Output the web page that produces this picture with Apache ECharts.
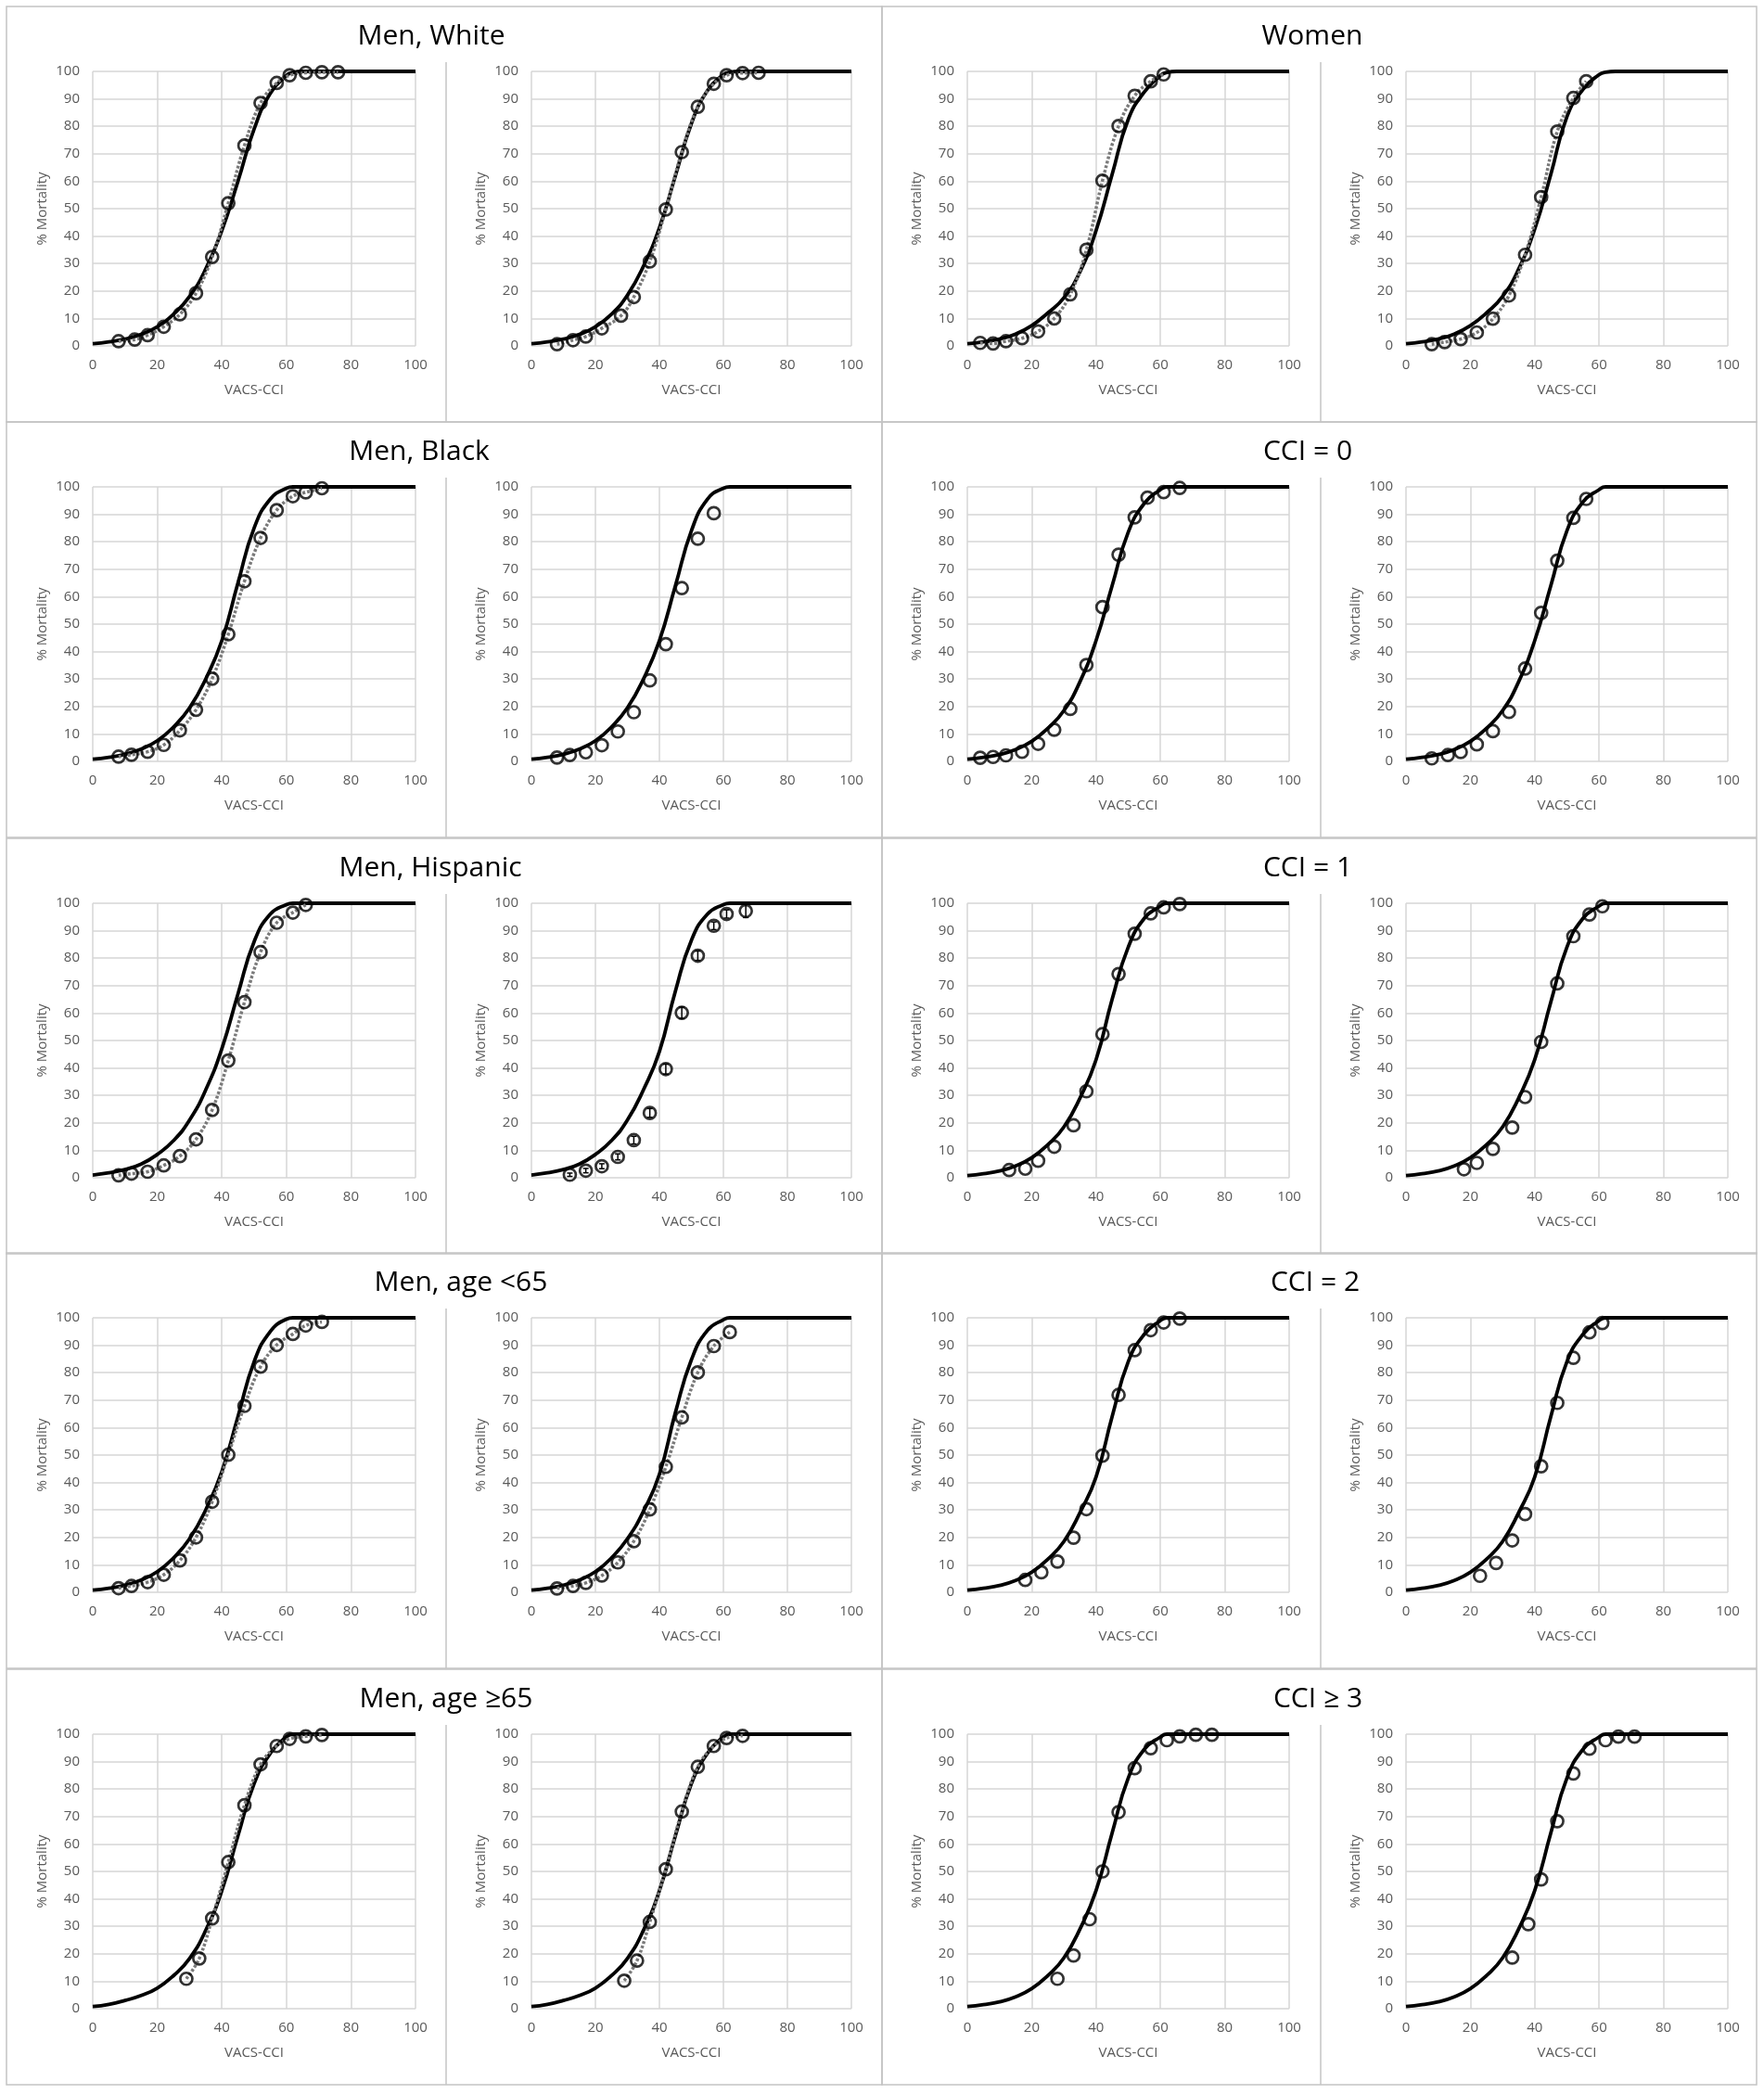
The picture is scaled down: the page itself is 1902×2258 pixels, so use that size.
<!DOCTYPE html>
<html><head><meta charset="utf-8">
<script src="https://cdn.jsdelivr.net/npm/echarts@6/dist/echarts.min.js"></script>
<style>html,body{margin:0;padding:0;background:#fff}#c{width:1902px;height:2258px}</style>
</head><body><div id="c"></div><script>
// ---- Data ----
const groupTitles = ['Men, White','Women','Men, Black','CCI = 0','Men, Hispanic','CCI = 1','Men, age <65','CCI = 2','Men, age \u226565','CCI \u2265 3'];
const xAxisName = 'VACS-CCI';
const yAxisName = '% Mortality';
const curveX = [0,5,10,15,20,25,30,35,40,45,50,55,60,62,65,100];

const menWhiteA_x = [8,13,17,22,27,32,37,42,47,52,57,61,66,71,76];
const menWhiteA_y = [1.7,2.3,3.9,7,11.5,19.2,32.4,52,73,88.5,95.8,98.6,99.5,99.7,99.7];
const menWhiteA_fit = [0.8,1.5,2.5,4.2,7,11.5,18,28,42,60,79,92,98.5,99.6,100,100];
const menWhiteB_x = [8,13,17,22,28,32,37,42,47,52,57,61,66,71];
const menWhiteB_y = [0.6,2.1,3.4,6.4,11,17.8,30.8,49.7,70.6,87.1,95.5,98.6,99.4,99.5];
const menWhiteB_fit = [0.8,1.5,2.5,4.2,7,11.5,18.5,29,43,62,81,93,98.8,99.7,100,100];

const womenA_x = [4,8,12,17,22,27,32,37,42,47,52,57,61];
const womenA_y = [1.1,0.9,1.7,2.8,5.3,10,18.8,35,60.2,80.1,91.1,96.4,98.9];
const womenA_fit = [0.8,1.5,2.5,4.3,7.4,12,17.5,27,42,62.5,82.5,92.5,98.5,99.6,100,100];
const womenB_x = [8,12,17,22,27,32,37,42,47,52,56];
const womenB_y = [0.6,1.4,2.5,4.9,9.9,18.4,33.2,54.2,78.1,90.3,96.4];
const womenB_fit = [0.8,1.5,2.5,4.3,7.4,12,18,28,42.6,62.5,83.5,93.5,98.8,99.7,100,100];

const menBlackA_x = [8,12,17,22,27,32,37,42,47,52,57,62,66,71];
const menBlackA_y = [1.7,2.4,3.5,6,11.3,18.8,30.1,46.3,65.6,81.4,91.5,96.6,98,99.5];
const menBlackA_fit = [0.8,1.5,2.6,4.5,7.5,12.5,19.5,30,44,65,85,95.5,99.5,100,100,100];
const menBlackB_x = [8,12,17,22,27,32,37,42,47,52,57];
const menBlackB_y = [1.4,2.3,3.3,5.9,10.9,17.9,29.5,42.7,63.1,81.1,90.4];
const menBlackB_fit = [0.8,1.5,2.6,4.5,7.5,12.5,19.5,30,44,64,84,95.5,99.5,100,100,100];

const cci0A_x = [4,8,12,17,22,27,32,37,42,47,52,56,61,66];
const cci0A_y = [1.3,1.6,2.2,3.5,6.4,11.5,19.1,35.1,56.2,75.3,88.9,96.1,98.1,99.6];
const cci0A_fit = [0.8,1.5,2.5,4.3,7.3,12,18.5,29,44,64,83.5,94,99,100,100,100];
const cci0B_x = [8,13,17,22,27,32,37,42,47,52,56];
const cci0B_y = [1.1,2.3,3.4,6.2,11,18,33.8,54.1,73.1,88.7,95.6];
const cci0B_fit = [0.8,1.5,2.5,4.3,7.3,12,18.5,29,44,64,84,94.5,99,100,100,100];

const menHispA_x = [8,12,17,22,27,32,37,42,47,52,57,62,66];
const menHispA_y = [0.9,1.5,2.2,4.5,7.9,14,24.7,42.7,64,82.2,92.9,96.6,99.4];
const menHispA_fit = [1,1.8,3,5,8.5,13.5,21,32,47,67,86,96,99.5,100,100,100];
const menHispB_x = [12,17,22,27,32,37,42,47,52,57,61,67];
const menHispB_y = [1.1,2.6,4.2,7.6,13.7,23.6,39.6,60.1,80.9,91.8,96.1,97.2];
const menHispB_err = [0.6,0.8,0.9,1.1,1.4,1.6,1.8,2.1,1.7,1.4,1.5,2.4];
const menHispB_fit = [1,1.8,3,5,8.5,13.5,21,32,46,68,86.5,96,99.5,100,100,100];

const cci1A_x = [13,18,22,27,33,37,42,47,52,57,61,66];
const cci1A_y = [2.8,3.3,6.2,11.3,19.1,31.5,52.3,74.2,88.9,96.3,98.5,99.7];
const cci1A_fit = [0.8,1.5,2.5,4.3,7.3,12,18.5,29,43,65,84,94.5,99,100,100,100];
const cci1B_x = [18,22,27,33,37,42,47,52,57,61];
const cci1B_y = [3.1,5.4,10.5,18.3,29.4,49.5,70.8,88,95.9,98.9];
const cci1B_fit = [0.8,1.5,2.5,4.3,7.3,12,18.5,29,43,64,84,94.5,99,100,100,100];

const menYoungA_x = [8,12,17,22,27,32,37,42,47,52,57,62,66,71];
const menYoungA_y = [1.5,2.3,3.7,6.4,11.6,20,33,50.1,67.9,82.2,90.1,94.1,97.2,98.5];
const menYoungA_fit = [0.8,1.5,2.6,4.5,7.5,12.5,19.5,30,44,64,84,95,99.5,100,100,100];
const menYoungB_x = [8,13,17,22,27,32,37,42,47,52,57,62];
const menYoungB_y = [1.4,2.3,3.4,6.1,10.9,18.6,30.2,45.7,63.7,80.1,89.7,94.8];
const menYoungB_fit = [0.8,1.5,2.6,4.5,7.5,12.5,19.5,29.5,43,65.5,84.7,95.4,99.3,100,100,100];

const cci2A_x = [18,23,28,33,37,42,47,52,57,61,66];
const cci2A_y = [4.5,7.3,11.2,19.9,30.3,49.8,71.9,88.2,95.5,98.3,99.7];
const cci2A_fit = [0.8,1.5,2.5,4.3,7.3,12,18.5,29,42,64,84,94,99,100,100,100];
const cci2B_x = [23,28,33,37,42,47,52,57,61];
const cci2B_y = [6,10.7,18.9,28.5,45.9,69,85.4,94.7,98.1];
const cci2B_fit = [0.8,1.5,2.5,4.3,7.3,12,18.5,29,42,64,84,94,99,100,100,100];

const menOldA_x = [29,33,37,42,47,52,57,61,66,71];
const menOldA_y = [10.9,18.3,32.9,53.4,74.1,89,95.7,98.3,99.2,99.7];
const menOldA_fit = [0.8,1.6,3,4.8,7.5,12,18.3,28.5,43,63,82,93,99,100,100,100];
const menOldB_x = [29,33,37,42,47,52,57,61,66];
const menOldB_y = [10.2,17.5,31.6,50.8,71.8,88.1,95.7,98.6,99.4];
const menOldB_fit = [0.8,1.6,3,4.8,7.5,12,18.3,28.5,43,63,82,93,99,100,100,100];

const cci3A_x = [28,33,38,42,47,52,57,62,66,71,76];
const cci3A_y = [10.9,19.4,32.6,50,71.6,87.6,94.9,97.8,99.2,99.8,99.8];
const cci3A_fit = [0.8,1.5,2.5,4.3,7.3,12,18.5,29,43,64,84,94.5,99,100,100,100];
const cci3B_x = [33,38,42,47,52,57,62,66,71];
const cci3B_y = [18.6,30.8,47.1,68.3,85.7,94.7,97.8,99.1,99.1];
const cci3B_fit = [0.8,1.5,2.5,4.3,7.3,12,18.5,29,43,64,84,94.5,99,100,100,100];

// ---- Panels (row, column-slot, data, whether the grey dotted line is drawn) ----
const panels = [
  [0,0,menWhiteA_x,menWhiteA_y,menWhiteA_fit,true],
  [0,1,menWhiteB_x,menWhiteB_y,menWhiteB_fit,true],
  [0,2,womenA_x,womenA_y,womenA_fit,true],
  [0,3,womenB_x,womenB_y,womenB_fit,true],
  [1,0,menBlackA_x,menBlackA_y,menBlackA_fit,true],
  [1,1,menBlackB_x,menBlackB_y,menBlackB_fit,false],
  [1,2,cci0A_x,cci0A_y,cci0A_fit,false],
  [1,3,cci0B_x,cci0B_y,cci0B_fit,false],
  [2,0,menHispA_x,menHispA_y,menHispA_fit,true],
  [2,1,menHispB_x,menHispB_y,menHispB_fit,false,menHispB_err],
  [2,2,cci1A_x,cci1A_y,cci1A_fit,false],
  [2,3,cci1B_x,cci1B_y,cci1B_fit,false],
  [3,0,menYoungA_x,menYoungA_y,menYoungA_fit,true],
  [3,1,menYoungB_x,menYoungB_y,menYoungB_fit,true],
  [3,2,cci2A_x,cci2A_y,cci2A_fit,false],
  [3,3,cci2B_x,cci2B_y,cci2B_fit,false],
  [4,0,menOldA_x,menOldA_y,menOldA_fit,true],
  [4,1,menOldB_x,menOldB_y,menOldB_fit,true],
  [4,2,cci3A_x,cci3A_y,cci3A_fit,false],
  [4,3,cci3B_x,cci3B_y,cci3B_fit,false]
];

// ---- Layout ----
const rowTop = [7,455,904,1351,1800];
const rowH = 448;
const slotLeft = [100,573,1043,1516];
const slotWidth = [348,345,347,347];
const groupLeft = [7,951];
const groupRight = [951,1894];
const sepX = [481,1424];
const titleCX = [[460,1410],[447,1405],[459,1405],[492,1413],[476,1416]];
const FONT = '"Open Sans", "Liberation Sans", sans-serif';
const LBL = '#595959';
const GRIDC = '#d6d6d6';

const grid = [], xAxis = [], yAxis = [], series = [], title = [], graphic = [];

for (let r = 0; r < 5; r++) {
  for (let g = 0; g < 2; g++) {
    graphic.push({type:'rect', shape:{x:groupLeft[g], y:rowTop[r], width:groupRight[g]-groupLeft[g], height:rowH},
      style:{fill:'none', stroke:'#c4c4c4', lineWidth:1.5}, z:-10});
    graphic.push({type:'line', shape:{x1:sepX[g], y1:rowTop[r]+60, x2:sepX[g], y2:rowTop[r]+rowH},
      style:{stroke:'#c4c4c4', lineWidth:1.5}, z:-10});
    title.push({text: groupTitles[r*2+g], left: titleCX[r][g], top: rowTop[r]+12, textAlign:'center',
      textStyle:{fontFamily:FONT, fontSize:30, fontWeight:'normal', color:'#000'}});
  }
}

panels.forEach((p, i) => {
  const [row, slot, ox, oy, fit, dotted, err] = p;
  grid.push({left: slotLeft[slot], top: rowTop[row]+70, width: slotWidth[slot], height: 296, containLabel:false});
  xAxis.push({type:'value', gridIndex:i, min:0, max:100, interval:20,
    name:xAxisName, nameLocation:'middle', nameGap:40,
    nameTextStyle:{color:LBL, fontSize:15, fontFamily:FONT},
    axisLine:{show:false}, axisTick:{show:false},
    axisLabel:{color:LBL, fontSize:15, fontFamily:FONT, margin:13},
    splitLine:{show:true, lineStyle:{color:GRIDC, width:1.5}}});
  yAxis.push({type:'value', gridIndex:i, min:0, max:100, interval:10,
    name:yAxisName, nameLocation:'middle', nameGap:47,
    nameTextStyle:{color:LBL, fontSize:15, fontFamily:FONT},
    axisLine:{show:false}, axisTick:{show:false},
    axisLabel:{color:LBL, fontSize:15, fontFamily:FONT, margin:14},
    splitLine:{show:true, lineStyle:{color:GRIDC, width:1.5}}});
  const obs = ox.map((x, k) => [x, oy[k]]);
  series.push({type:'line', xAxisIndex:i, yAxisIndex:i, data: curveX.map((x,k)=>[x, fit[k]]),
    smooth:0.5, showSymbol:false, clip:false, silent:true, z:2,
    lineStyle:{color:'#000', width:3.8}});
  if (dotted) {
    series.push({type:'line', xAxisIndex:i, yAxisIndex:i, data: obs,
      smooth:0.4, showSymbol:false, clip:false, silent:true, z:3,
      lineStyle:{color:'#7a7a7a', width:3.5, type:[3,2]}});
  }
  if (err) {
    series.push({type:'custom', xAxisIndex:i, yAxisIndex:i, z:3, silent:true, clip:false,
      data: ox.map((x,k)=>[x, oy[k]-err[k], oy[k]+err[k]]),
      renderItem: (params, api) => {
        const lo = api.coord([api.value(0), api.value(1)]);
        const hi = api.coord([api.value(0), api.value(2)]);
        const st = {stroke:'#000', lineWidth:1.5};
        return {type:'group', children:[
          {type:'line', shape:{x1:lo[0], y1:lo[1], x2:hi[0], y2:hi[1]}, style:st},
          {type:'line', shape:{x1:lo[0]-3, y1:lo[1], x2:lo[0]+3, y2:lo[1]}, style:st},
          {type:'line', shape:{x1:hi[0]-3, y1:hi[1], x2:hi[0]+3, y2:hi[1]}, style:st}
        ]};
      }});
  }
  series.push({type:'scatter', xAxisIndex:i, yAxisIndex:i, data: obs, clip:false, silent:true, z:4,
    symbol:'circle', symbolSize:13,
    itemStyle:{color:'rgba(255,255,255,0)', borderColor:'#000', borderWidth:2.7}});
});

const chart = echarts.init(document.getElementById('c'), null, {renderer:'canvas'});
chart.setOption({
  backgroundColor:'#fff',
  animation:false,
  title, grid, xAxis, yAxis, series, graphic
});
</script></body></html>
